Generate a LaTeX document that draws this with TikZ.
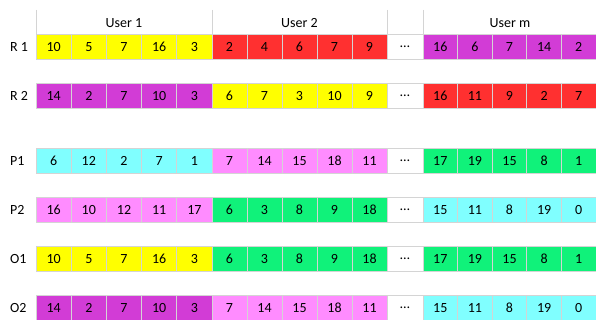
\documentclass[tikz,border=0pt]{standalone}
\usepackage{fontspec}
\setmainfont{Carlito}
\definecolor{ylw}{HTML}{FFFF00}
\definecolor{rd}{HTML}{FF3030}
\definecolor{pur}{HTML}{D23CD6}
\definecolor{pnk}{HTML}{FF8CFF}
\definecolor{cyn}{HTML}{80FFFF}
\definecolor{grn}{HTML}{10F27A}
\definecolor{edge}{HTML}{D4D4D4}
\tikzset{
  cellbox/.style={draw=edge, line width=0.9pt, minimum height=25.5pt, inner sep=0pt, font=\fontsize{14}{16}\selectfont},
  rowlab/.style={anchor=west, inner sep=0pt, font=\fontsize{14}{16}\selectfont},
  headlab/.style={inner sep=0pt, font=\fontsize{14}{16}\selectfont},
  headline/.style={draw=edge, line width=0.9pt}
}
\begin{document}
\begin{tikzpicture}[x=1pt,y=-1pt]
\useasboundingbox (0,0) rectangle (596,320);
% header
\foreach \hx [count=\k] in {36,212,387,423}{
  \coordinate (ht\k) at (\hx,10);
  \coordinate (hb\k) at (\hx,34);
  \draw[headline] (ht\k) -- (hb\k);
}
\node[headlab] (h1) at (124,23) {User 1};
\node[headlab] (h2) at (299.5,23) {User 2};
\node[headlab] (h3) at (510,23) {User m};
% rows
\foreach \rn/\cy/\lab/\ca/\la/\cb/\lb/\cc/\lc in {
  R1/47/R 1/ylw/{10,5,7,16,3}/rd/{2,4,6,7,9}/pur/{16,6,7,14,2},
  R2/96/R 2/pur/{14,2,7,10,3}/ylw/{6,7,3,10,9}/rd/{16,11,9,2,7},
  P1/161/P1/cyn/{6,12,2,7,1}/pnk/{7,14,15,18,11}/grn/{17,19,15,8,1},
  P2/210/P2/pnk/{16,10,12,11,17}/grn/{6,3,8,9,18}/cyn/{15,11,8,19,0},
  O1/259/O1/ylw/{10,5,7,16,3}/grn/{6,3,8,9,18}/grn/{17,19,15,8,1},
  O2/308/O2/pur/{14,2,7,10,3}/pnk/{7,14,15,18,11}/cyn/{15,11,8,19,0}}{
  \node[rowlab] (\rn-lab) at (10,\cy) {\lab};
  \foreach \v [count=\i] in \la {
    \node[cellbox, fill=\ca, minimum width=35.2pt] (\rn-a\i) at ({36+35.2*(\i-0.5)},\cy) {\v};
  }
  \foreach \v [count=\i] in \lb {
    \node[cellbox, fill=\cb, minimum width=35pt] (\rn-b\i) at ({212+35*(\i-0.5)},\cy) {\v};
  }
  \node[cellbox, fill=white, minimum width=36pt] (\rn-dots) at (405,\cy) {…};
  \foreach \v [count=\i] in \lc {
    \node[cellbox, fill=\cc, minimum width=34.6pt] (\rn-c\i) at ({423+34.6*(\i-0.5)},\cy) {\v};
  }
}
\end{tikzpicture}
\end{document}
